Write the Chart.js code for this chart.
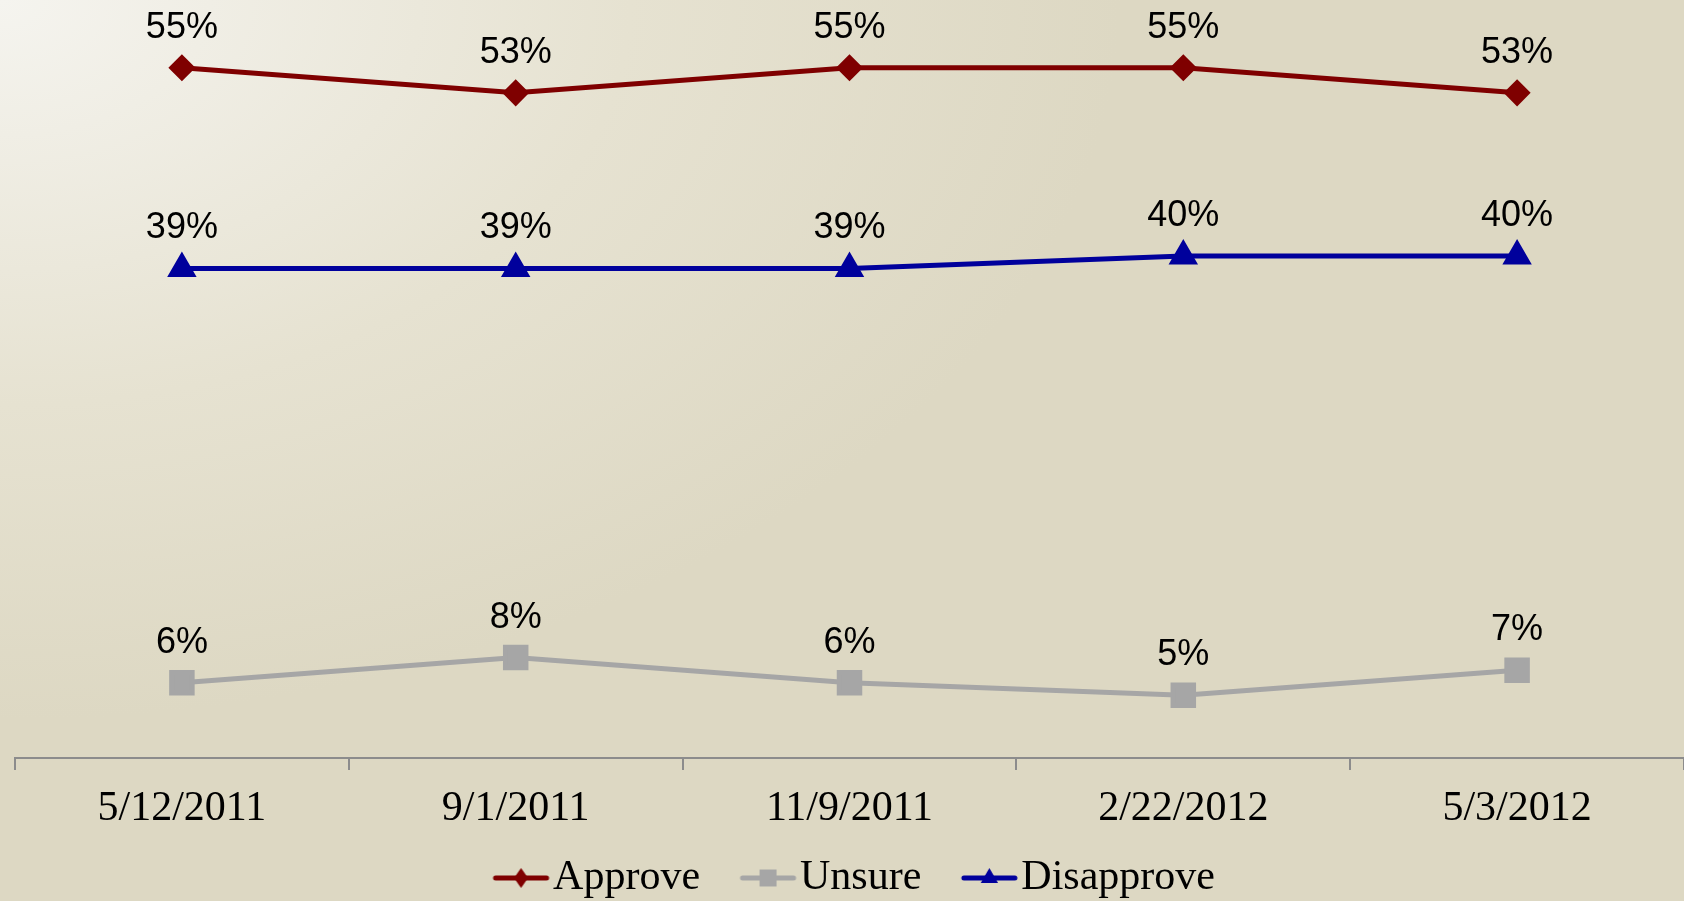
<!DOCTYPE html>
<html>
<head>
<meta charset="utf-8">
<script src="https://cdn.jsdelivr.net/npm/chart.js@4.4.1/dist/chart.umd.min.js"></script>
<style>
  html, body { margin: 0; padding: 0; }
  body {
    width: 1684px; height: 901px; overflow: hidden;
    background: radial-gradient(ellipse 1400px 900px at 0 0, #f5f4ef 0%, #e6e2d1 45%, #ddd8c3 80%, #ddd8c3 100%);
  }
  canvas { display: block; }
</style>
</head>
<body>
<canvas id="approval" width="1684" height="901"></canvas>
<script>
var dates = ['5/12/2011', '9/1/2011', '11/9/2011', '2/22/2012', '5/3/2012'];
var approve = [55, 53, 55, 55, 53];
var unsure = [6, 8, 6, 5, 7];
var disapprove = [39, 39, 39, 40, 40];

var red = '#7f0000', grey = '#a6a6a6', blue = '#00009c';

// little "line with marker" pictures for the legend
function legendIcon(color, style, radius, w) {
    var c = document.createElement('canvas');
    c.width = 112;
    c.height = 30;
    var g = c.getContext('2d');
    g.strokeStyle = color;
    g.lineWidth = 5;
    g.lineCap = 'round';
    g.beginPath();
    g.moveTo(51, 15);
    g.lineTo(102, 15);
    g.stroke();
    g.fillStyle = color;
    g.strokeStyle = color;
    g.lineWidth = 1;
    var opts = { pointStyle: style, radius: radius, rotation: 0 };
    if (Chart.helpers.drawPointLegend) {
        Chart.helpers.drawPointLegend(g, opts, 76.5, 15, w);
    } else {
        Chart.helpers.drawPoint(g, opts, 76.5, 15);
    }
    return c;
}
var icons = [
    legendIcon(red, 'rectRot', 10, 14),
    legendIcon(grey, 'rect', 12),
    legendIcon(blue, 'triangle', 10)
];

// percentage labels above each point
var pctLabels = {
    id: 'pctLabels',
    afterDatasetsDraw: function(chart) {
        var ctx = chart.ctx;
        ctx.save();
        ctx.font = '36px "Liberation Sans", Arial, sans-serif';
        ctx.fillStyle = '#000';
        ctx.textAlign = 'center';
        ctx.textBaseline = 'middle';
        chart.data.datasets.forEach(function(ds, i) {
            chart.getDatasetMeta(i).data.forEach(function(pt, j) {
                ctx.fillText(ds.data[j] + '%', pt.x, pt.y - 40);
            });
        });
        ctx.restore();
    }
};

var ctx = document.getElementById('approval').getContext('2d');
var approval = new Chart(ctx, {
    type: 'line',
    data: {
        labels: dates,
        datasets: [{
            label: 'Approve',
            data: approve,
            borderColor: red,
            backgroundColor: red,
            pointStyle: 'rectRot',
            pointRadius: 10,
            borderWidth: 5
        }, {
            label: 'Unsure',
            data: unsure,
            borderColor: grey,
            backgroundColor: grey,
            pointStyle: 'rect',
            pointRadius: 14.5,
            borderWidth: 5
        }, {
            label: 'Disapprove',
            data: disapprove,
            borderColor: blue,
            backgroundColor: blue,
            pointStyle: 'triangle',
            pointRadius: 12,
            borderWidth: 5
        }]
    },
    options: {
        responsive: false,
        animation: false,
        events: [],
        layout: {
            autoPadding: false,
            // legend text sits low in the original, its descenders run off the bottom
            padding: { left: 0, right: 0, top: 5, bottom: -8 }
        },
        elements: {
            line: { tension: 0 },
            point: { borderWidth: 1 }
        },
        scales: {
            x: {
                offset: true,
                grid: {
                    offset: true,
                    drawOnChartArea: false,
                    tickLength: 12,
                    color: '#8c8c8c',
                    lineWidth: 2
                },
                border: { color: '#8c8c8c', width: 2 },
                ticks: {
                    color: '#000',
                    padding: 14,
                    font: { family: '"Liberation Serif", "Times New Roman", serif', size: 42 }
                },
                afterFit: function(scale) { scale.height = 83; }
            },
            y: {
                min: 0,
                max: 60,
                grid: { display: false },
                border: { display: false },
                ticks: { display: false },
                afterFit: function(scale) { scale.width = 15; }
            }
        },
        plugins: {
            legend: {
                position: 'bottom',
                labels: {
                    usePointStyle: true,
                    pointStyleWidth: 63,
                    boxHeight: 42,
                    padding: 16,
                    color: '#000',
                    font: { family: '"Liberation Serif", "Times New Roman", serif', size: 42 },
                    generateLabels: function(chart) {
                        return chart.data.datasets.map(function(ds, i) {
                            return {
                                text: ds.label,
                                pointStyle: icons[i],
                                fillStyle: ds.borderColor,
                                strokeStyle: ds.borderColor,
                                lineWidth: 0,
                                hidden: false,
                                datasetIndex: i
                            };
                        });
                    }
                }
            },
            tooltip: { enabled: false }
        }
    },
    plugins: [pctLabels]
});
</script>
</body>
</html>
